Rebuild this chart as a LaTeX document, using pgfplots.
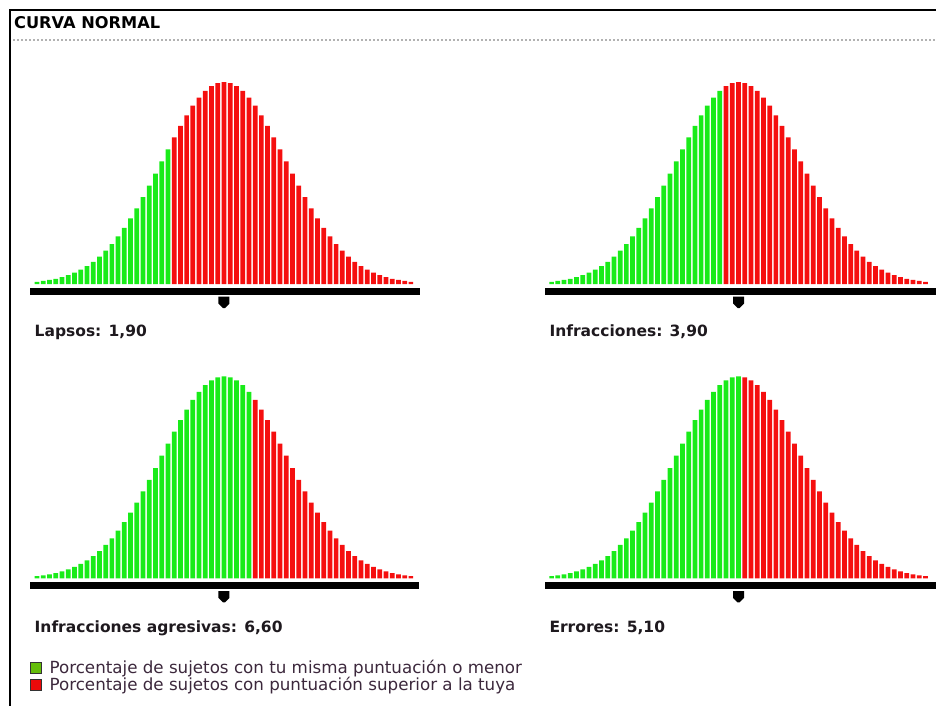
\documentclass[border=0pt]{standalone}
\usepackage{fontspec}
\setmainfont{DejaVu Sans}
\usepackage{pgfplots}
\pgfplotsset{compat=1.18}
\usepackage{pgfplotstable}

\definecolor{barGreen}{RGB}{25,235,25}
\definecolor{barRed}{RGB}{245,15,15}
\definecolor{legGreen}{RGB}{100,190,10}
\definecolor{legRed}{RGB}{235,10,10}
\definecolor{legTxt}{RGB}{60,40,60}
\definecolor{lblTxt}{RGB}{30,25,30}

% same bell shape in all four panels (61 bars)
\pgfplotstableread{
idx h
0 1.1
1 1.5
2 2.0
3 2.6
4 3.4
5 4.4
6 5.6
7 7.1
8 8.9
9 11.0
10 13.5
11 16.5
12 19.8
13 23.6
14 27.8
15 32.5
16 37.5
17 43.0
18 48.7
19 54.6
20 60.7
21 66.7
22 72.6
23 78.3
24 83.5
25 88.3
26 92.3
27 95.6
28 98.0
29 99.5
30 100
31 99.5
32 98.0
33 95.6
34 92.3
35 88.3
36 83.5
37 78.3
38 72.6
39 66.7
40 60.7
41 54.6
42 48.7
43 43.0
44 37.5
45 32.5
46 27.8
47 23.6
48 19.8
49 16.5
50 13.5
51 11.0
52 8.9
53 7.1
54 5.6
55 4.4
56 3.4
57 2.6
58 2.0
59 1.5
60 1.1
}\bell

\pgfplotsset{
  bellaxis/.style={
    scale only axis, width=380bp, height=202bp,
    xmin=-0.5, xmax=60.5, ymin=0, ymax=100,
    hide axis, clip=false, anchor=south west,
  },
  greenbars/.style={ybar, bar width=0.76, bar shift=0pt, fill=barGreen, draw=none},
  redbars/.style={ybar, bar width=0.76, bar shift=0pt, fill=barRed, draw=none},
}

% black base strip and the pointer under the mean
\newcommand{\basestrip}[1]{%
  \fill[black] (axis cs:-0.5,0) ++(-4bp,-4bp) rectangle ++(#1,-6.5bp);
  \fill[black] (axis cs:30,0) ++(-5.5bp,-12.7bp) -- ++(11bp,0bp) -- ++(0bp,-6.8bp)
    -- ++(-4.5bp,-4.5bp) -- ++(-2bp,0bp) -- ++(-4.5bp,4.5bp) -- cycle;
}

\newcommand{\lblfont}{\fontsize{15.5bp}{18bp}\selectfont\bfseries}

\begin{document}
\begin{tikzpicture}
\path[use as bounding box] (0,0) rectangle (936bp,-706bp);

% frame and header
\fill[black] (9bp,-9.3bp) rectangle (936bp,-11.3bp);
\fill[black] (9bp,-9.3bp) rectangle (11bp,-706bp);
\draw[black!30, line width=1.6bp, dash pattern=on 1.6bp off 2.4bp] (13bp,-40bp) -- (936bp,-40bp);
\node[anchor=base west, inner sep=0pt, font=\fontsize{16.2bp}{18bp}\selectfont\bfseries] at (14bp,-28.3bp) {CURVA NORMAL};

% Lapsos
\begin{axis}[bellaxis, at={(34bp,-284bp)}]
  \addplot[greenbars, restrict x to domain=0:21] table[x=idx, y=h] {\bell};
  \addplot[redbars, restrict x to domain=22:60] table[x=idx, y=h] {\bell};
  \basestrip{390bp}
\end{axis}

% Infracciones
\begin{axis}[bellaxis, at={(548.5bp,-284bp)}]
  \addplot[greenbars, restrict x to domain=0:27] table[x=idx, y=h] {\bell};
  \addplot[redbars, restrict x to domain=28:60] table[x=idx, y=h] {\bell};
  \basestrip{391.5bp}
\end{axis}

% Infracciones agresivas (carries the legend)
\begin{axis}[bellaxis, at={(34bp,-578.3bp)},
  legend style={at={(axis description cs:-0.0105,-0.397)}, anchor=north west,
    draw=none, fill=none, inner sep=0pt, outer sep=0pt,
    font=\fontsize{16.7bp}{17bp}\selectfont, text=legTxt,
    cells={anchor=west}, row sep=-2bp,
    /tikz/every odd column/.append style={column sep=6bp}},
  legend cell align=left]
  \addplot[greenbars, restrict x to domain=0:34, forget plot] table[x=idx, y=h] {\bell};
  \addplot[redbars, restrict x to domain=35:60, forget plot] table[x=idx, y=h] {\bell};
  \basestrip{389bp}
  \addlegendimage{legend image code/.code={\draw[fill=legGreen, draw=black!80, line width=0.9bp] (0bp,-5.3bp) rectangle (10.7bp,5.3bp);}}
  \addlegendentry{Porcentaje de sujetos con tu misma puntuación o menor}
  \addlegendimage{legend image code/.code={\draw[fill=legRed, draw=black!80, line width=0.9bp] (0bp,-5.3bp) rectangle (10.7bp,5.3bp);}}
  \addlegendentry{Porcentaje de sujetos con puntuación superior a la tuya}
\end{axis}

% Errores
\begin{axis}[bellaxis, at={(548.5bp,-578.3bp)}]
  \addplot[greenbars, restrict x to domain=0:30] table[x=idx, y=h] {\bell};
  \addplot[redbars, restrict x to domain=31:60] table[x=idx, y=h] {\bell};
  \basestrip{391.5bp}
\end{axis}

% panel captions
\node[anchor=base west, inner sep=0pt, font=\lblfont, text=lblTxt] at (34.5bp,-336bp) {Lapsos: 1,90};
\node[anchor=base west, inner sep=0pt, font=\lblfont, text=lblTxt] at (549.3bp,-336bp) {Infracciones: 3,90};
\node[anchor=base west, inner sep=0pt, font=\lblfont, text=lblTxt] at (34.5bp,-632.5bp) {Infracciones agresivas: 6,60};
\node[anchor=base west, inner sep=0pt, font=\lblfont, text=lblTxt] at (549.3bp,-632.5bp) {Errores: 5,10};
\end{tikzpicture}
\end{document}
